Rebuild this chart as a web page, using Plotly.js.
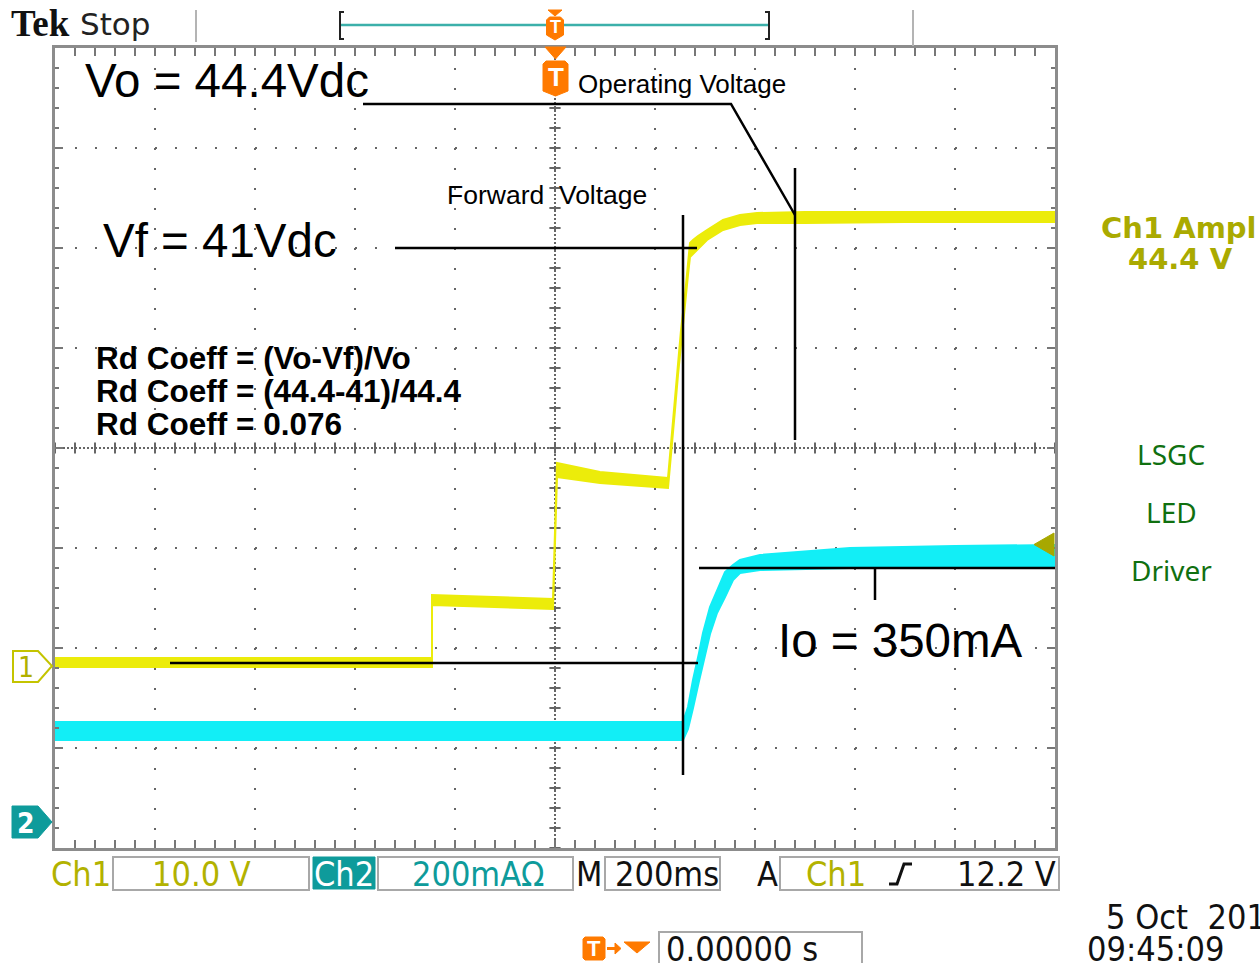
<!DOCTYPE html>
<html><head><meta charset="utf-8">
<script src="https://cdn.plot.ly/plotly-3.0.1.min.js"></script>
<style>html,body{margin:0;padding:0;background:#fff;overflow:hidden;}</style>
</head><body><div id="chart" style="width:1260px;height:963px;"></div>
<script>
// ---------------- data ----------------
// time in ms (200 ms/div, trigger at centre), Ch1 in volts (10 V/div), Ch2 in mA (200 mA/div)
const ch1Time = [-1000, -246, -246, -4, 4, 90, 226, 232, 234, 240, 246, 252, 260, 266, 270, 276, 286, 304, 336, 370, 404, 500, 700, 1000];
const ch1High = [0.5, 0.5, 6.8, 6.4, 20.0, 19.1, 18.5, 21.8, 22.8, 26.3, 29.8, 33.3, 36.8, 40.3, 42.0, 42.3, 42.7, 43.3, 44.3, 44.8, 45.0, 45.1, 45.1, 45.1];
const ch1Low  = [-0.4, -0.4, 5.8, 5.4, 18.6, 18.0, 17.5, 20.8, 21.8, 25.3, 28.8, 32.3, 35.8, 38.8, 40.6, 40.9, 41.4, 42.3, 43.3, 43.8, 44.0, 44.0, 44.1, 44.1];

const ch2Time = [-1000, 256, 266, 276, 288, 296, 310, 324, 340, 356, 370, 410, 590, 800, 1000];
const ch2High = [196, 196, 226, 280, 334, 374, 426, 460, 496, 510, 520, 530, 544, 548, 550];
const ch2Low  = [160, 160, 182, 224, 278, 314, 372, 414, 446, 480, 494, 500, 504, 506, 506];

const timeRange = [-1000, 1000];
const ch1Range = [-18.5, 61.5];
const ch2Range = [-56, 1544];

const labelsTop = ['Tek', 'Stop'];
const readout = {ch1Scale: '10.0 V', ch2Scale: '200mA\u03A9', timebase: '200ms', trigSource: 'Ch1', trigLevel: '12.2 V', trigPos: '0.00000 s', date: '5 Oct\u00a0 201', time: '09:45:09'};
const measLabel = ['Ch1 Ampl', '44.4 V'];
const brandLines = ['LSGC', 'LED', 'Driver'];

// annotation lines (data units: ms, Ch1 volts)
const noteLines = [
  [[-384, 55.9], [352, 55.9], [480, 44.8]],
  [[-320, 41.5], [284, 41.5]],
  [[256, 44.8], [256, -11.2]],
  [[480, 49.5], [480, 22.3]],
  [[-770, 0], [286, 0]],
  [[288, 9.5], [1000, 9.5]],
  [[640, 9.5], [640, 6.3]]
];

// ---------------- helpers ----------------
const L = 55, T = 48, W = 1000, H = 800;
const fx = x => (x - L) / W, fy = y => (T + H - y) / H;
function pathPx(pts, close) {
  return pts.map((p, i) => (i ? 'L' : 'M') + fx(p[0]).toFixed(5) + ',' + fy(p[1]).toFixed(5)).join(' ') + (close ? ' Z' : '');
}
const ARIAL = 'Liberation Sans, Arial, sans-serif';
const TEKF = 'DejaVu Sans Condensed, DejaVu Sans, sans-serif';
const OLIVE = '#b2b200', TEAL = '#0e9b9b', ORANGE = '#ff7a00';

const ann = [];
function addText(text, x, y, size, color, family, anchor) {
  ann.push({xref: 'paper', yref: 'paper', x: fx(x), y: fy(y), text: text, showarrow: false,
    xanchor: anchor || 'left', yanchor: 'middle', font: {size: size, color: color, family: family}});
}
const shapes = [];
function addPath(pts, close, lineColor, lineWidth, fill) {
  shapes.push({type: 'path', xref: 'paper', yref: 'paper', path: pathPx(pts, close),
    line: {color: lineColor || 'rgba(0,0,0,0)', width: lineWidth || 0}, fillcolor: fill || 'rgba(0,0,0,0)', layer: 'above'});
}
function addRect(x0, y0, x1, y1, lineColor, lineWidth, fill) {
  shapes.push({type: 'rect', xref: 'paper', yref: 'paper', x0: fx(x0), x1: fx(x1), y0: fy(y1), y1: fy(y0),
    line: {color: lineColor || 'rgba(0,0,0,0)', width: lineWidth || 0}, fillcolor: fill || 'rgba(0,0,0,0)', layer: 'above'});
}
function tMarker(cx, top, w, h, size) {
  const x0 = cx - w / 2, x1 = cx + w / 2, b = top + h;
  addPath([[x0 + 3, top], [x1 - 3, top], [x1, top + 3], [x1, b - 5], [cx, b], [x0, b - 5], [x0, top + 3]], true, ORANGE, 1, ORANGE);
  addText('<b>T</b>', cx, top + h / 2 - 2, size, '#fff', ARIAL, 'center');
}

// ---------------- traces ----------------
function band(t, hi, lo, color, yaxis) {
  return {x: t.concat(t.slice().reverse()), y: hi.concat(lo.slice().reverse()), yaxis: yaxis,
    type: 'scatter', mode: 'lines', fill: 'toself', fillcolor: color, line: {color: color, width: 2},
    hoverinfo: 'skip', showlegend: false};
}
const centreV = (ch1Range[0] + ch1Range[1]) / 2;
const tickX = [], tickY = [];
for (let t = timeRange[0]; t <= timeRange[1]; t += 40) tickX.push(t);
for (let v = ch1Range[0]; v <= ch1Range[1] + 1e-6; v += 2) tickY.push(v);

const traces = [
  {x: tickX, y: tickX.map(() => centreV), mode: 'markers', marker: {symbol: 'line-ns', size: 8, line: {width: 2, color: '#666'}}, hoverinfo: 'skip', showlegend: false},
  {x: tickY.map(() => 0), y: tickY, mode: 'markers', marker: {symbol: 'line-ew', size: 8, line: {width: 2, color: '#666'}}, hoverinfo: 'skip', showlegend: false},
  band(ch1Time, ch1High, ch1Low, '#ecec0a', 'y'),
  band(ch2Time, ch2High, ch2Low, '#12eef6', 'y2')
];

// centre cross dotted lines
shapes.push({type: 'line', xref: 'x', yref: 'paper', x0: 0, x1: 0, y0: 0, y1: 1, line: {color: '#666', width: 2, dash: '2px,2px'}, layer: 'below'});
shapes.push({type: 'line', xref: 'paper', yref: 'y', x0: 0, x1: 1, y0: centreV, y1: centreV, line: {color: '#666', width: 2, dash: '2px,2px'}, layer: 'below'});

// annotation lines
noteLines.forEach(seg => {
  shapes.push({type: 'path', xref: 'x', yref: 'y', layer: 'above',
    path: seg.map((p, i) => (i ? 'L' : 'M') + p[0] + ',' + p[1]).join(' '),
    line: {color: '#000', width: 2.5}});
});

// ---------------- screen furniture ----------------
addText('<b>' + labelsTop[0] + '</b>', 9, 24, 37, '#111', 'Liberation Serif, serif');
addText(labelsTop[1], 78, 24, 31, '#222', 'DejaVu Sans, sans-serif');
addPath([[196, 10], [196, 42]], false, '#b4b4b4', 2);
addPath([[913, 10], [913, 46]], false, '#b4b4b4', 2);
addPath([[344, 12], [340, 12], [340, 39], [344, 39]], false, '#222', 2);
addPath([[765, 12], [769, 12], [769, 39], [765, 39]], false, '#222', 2);
addPath([[341, 25], [768, 25]], false, '#3cb0aa', 2.5);
addPath([[548, 10], [562, 10], [555, 16]], true, ORANGE, 1, ORANGE);
tMarker(555, 17, 17, 23, 18);
addPath([[545, 47], [566, 47], [555.5, 59]], true, ORANGE, 1, ORANGE);
tMarker(555.5, 61, 25, 35, 26);

// channel markers
addPath([[13, 651], [38, 651], [52, 666], [38, 682], [13, 682]], true, '#c4c400', 2);
addText('1', 26, 667, 28, '#b0b000', TEKF, 'center');
addPath([[12, 806], [38, 806], [52, 822], [38, 838], [12, 838]], true, TEAL, 1, TEAL);
addText('<b>2</b>', 26, 823, 28, '#fff', TEKF, 'center');
addPath([[1054, 533], [1054, 556], [1034, 544.5]], true, '#a8a800', 1, '#a8a800');

// annotation texts
addText('Vo = 44.4Vdc', 83, 80, 47.5, '#000', ARIAL);
addText('Operating Voltage', 576, 84, 26, '#000', ARIAL);
addText('Forward\u00a0 Voltage', 445, 195, 26.5, '#000', ARIAL);
addText('Vf = 41Vdc', 101, 240, 47.5, '#000', ARIAL);
addText('<b>Rd Coeff = (Vo-Vf)/Vo</b>', 94, 358, 31.5, '#000', ARIAL);
addText('<b>Rd Coeff = (44.4-41)/44.4</b>', 94, 391, 31.5, '#000', ARIAL);
addText('<b>Rd Coeff = 0.076</b>', 94, 424, 31.5, '#000', ARIAL);
addText('Io = 350mA', 776, 640, 47.5, '#000', ARIAL);

// right side
addText('<b>' + measLabel[0] + '</b>', 1099, 228, 29, '#aaaa00', 'DejaVu Sans, sans-serif');
addText('<b>' + measLabel[1] + '</b>', 1126, 259, 29, '#aaaa00', 'DejaVu Sans, sans-serif');
brandLines.forEach((s, i) => addText(s, 1171, 454 + 58 * i, 28, '#107010', 'Noto Sans, sans-serif', 'center'));

// bottom readout
addRect(113, 857, 309, 890, '#a8a8a8', 2);
addRect(313, 857, 375, 889, TEAL, 1, TEAL);
addRect(378, 857, 573, 890, '#a8a8a8', 2);
addRect(605, 857, 720, 890, '#a8a8a8', 2);
addRect(780, 857, 1059, 890, '#a8a8a8', 2);
addRect(659, 932, 862, 966, '#a8a8a8', 2);
addText('Ch1', 49, 874, 34, OLIVE, TEKF);
addText(readout.ch1Scale, 201, 874, 34, OLIVE, TEKF, 'center');
addText('Ch2', 344, 874, 34, '#fff', TEKF, 'center');
addText(readout.ch2Scale, 478, 874, 34, TEAL, TEKF, 'center');
addText('M', 589, 874, 34, '#111', TEKF, 'center');
addText(readout.timebase, 667, 874, 34, '#111', TEKF, 'center');
addText('A', 767, 874, 34, '#111', TEKF, 'center');
addText(readout.trigSource, 836, 874, 34, OLIVE, TEKF, 'center');
addPath([[889, 884], [897, 884], [904, 864], [912, 864]], false, '#111', 3);
addText(readout.trigLevel, 1058, 874, 34, '#111', TEKF, 'right');
addPath([[585, 937], [603, 937], [605, 939], [605, 958], [603, 960], [585, 960], [583, 958], [583, 939]], true, ORANGE, 1, ORANGE);
addText('<b>T</b>', 594, 948, 22, '#fff', ARIAL, 'center');
addPath([[607, 948.5], [618, 948.5]], false, ORANGE, 3);
addPath([[615, 943], [621, 948.5], [615, 954]], true, ORANGE, 1, ORANGE);
addPath([[624, 942], [650, 942], [637, 953]], true, ORANGE, 1, ORANGE);
addText(readout.trigPos, 664, 949, 34, '#111', TEKF);
addText(readout.date, 1104, 917, 34, '#111', TEKF);
addText(readout.time, 1085, 949, 34, '#111', TEKF);

const axBase = {showticklabels: false, zeroline: false, fixedrange: true, showgrid: true,
  gridcolor: '#666', gridwidth: 2, griddash: '2px,18px', ticks: 'inside', ticklen: 8, tickwidth: 2, tickcolor: '#777',
  showline: true, linecolor: '#8c8c8c', linewidth: 3, mirror: 'allticks'};

const layout = {
  width: 1260, height: 963, margin: {l: L, r: 1260 - L - W, t: T, b: 963 - T - H},
  paper_bgcolor: '#fff', plot_bgcolor: '#fff', showlegend: false, hovermode: false,
  xaxis: Object.assign({}, axBase, {range: timeRange, tick0: -1000, dtick: 200,
    minor: {tick0: -1000, dtick: 40, ticks: 'inside', ticklen: 4, tickwidth: 2, tickcolor: '#777', showgrid: false}}),
  yaxis: Object.assign({}, axBase, {range: ch1Range, tick0: 1.5, dtick: 10,
    minor: {tick0: 1.5, dtick: 2, ticks: 'inside', ticklen: 4, tickwidth: 2, tickcolor: '#777', showgrid: false}}),
  yaxis2: {range: ch2Range, overlaying: 'y', visible: false, fixedrange: true},
  shapes: shapes, annotations: ann
};
Plotly.newPlot('chart', traces, layout, {staticPlot: true, displayModeBar: false});
</script></body></html>
